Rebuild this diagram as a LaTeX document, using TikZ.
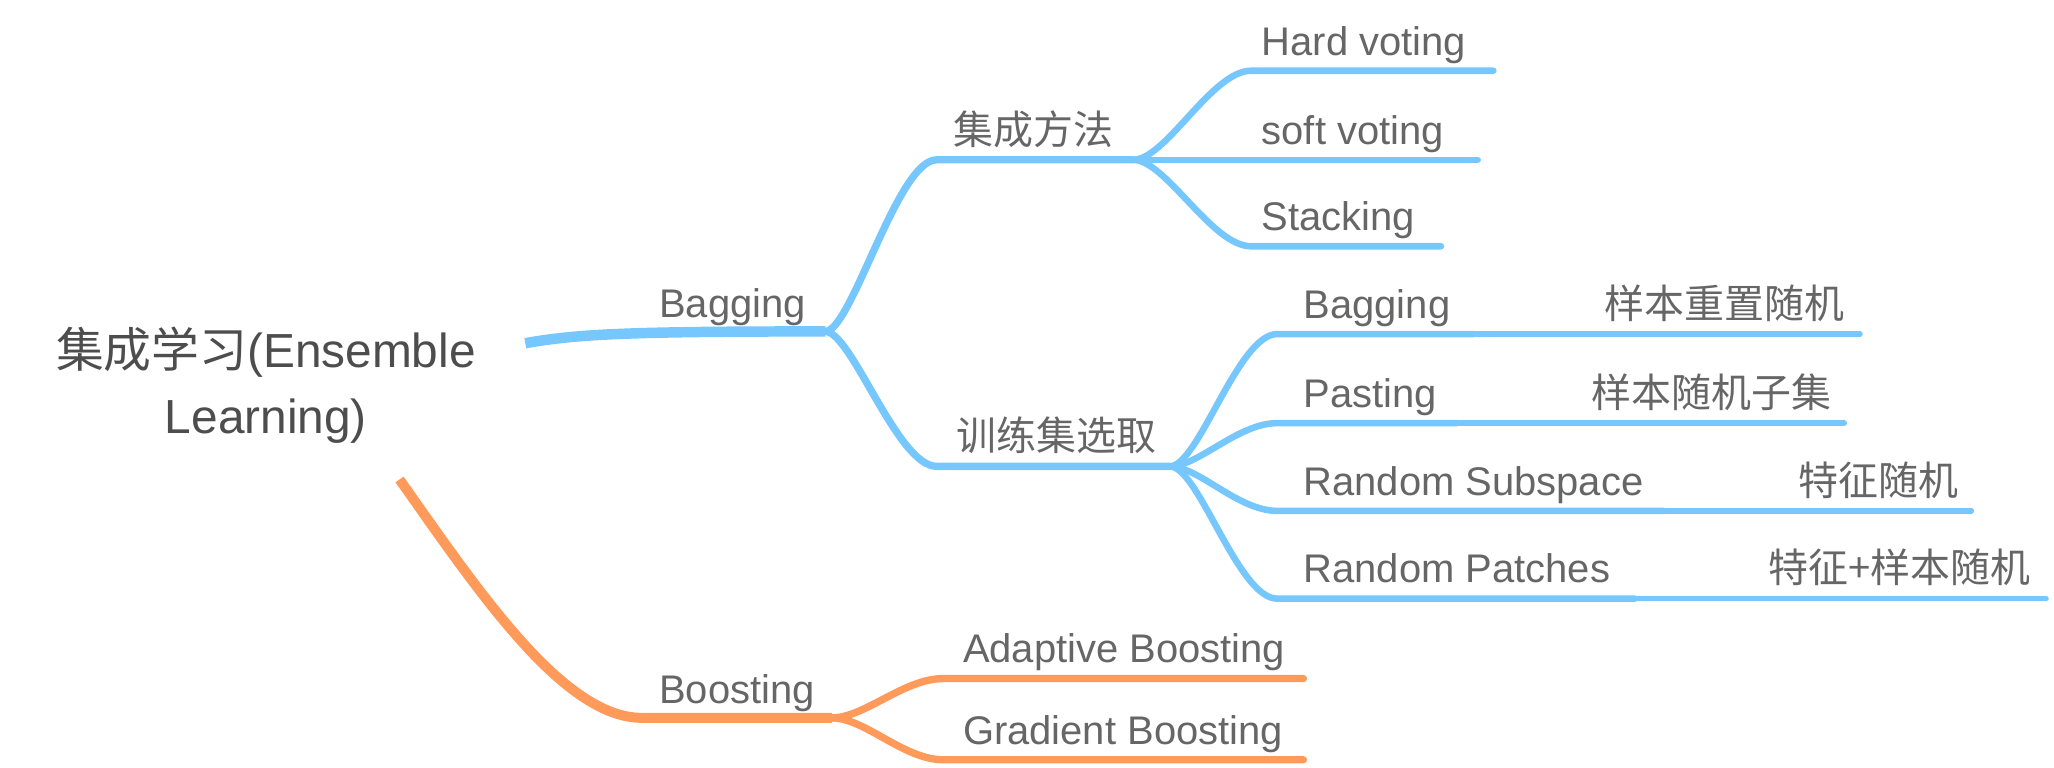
\documentclass[tikz,border=0pt]{standalone}
\usepackage{fontspec}
\setmainfont{Liberation Sans}
\newfontfamily\cjk{Noto Sans CJK SC}
\definecolor{blu}{HTML}{76C7FD}
\definecolor{org}{HTML}{FF9A5A}
\definecolor{txt}{HTML}{666666}
\definecolor{roottxt}{HTML}{4D4D4D}
\begin{document}
\begin{tikzpicture}[x=1pt,y=-1pt,line cap=round,line join=round,
  lbl/.style={anchor=base west,inner sep=0pt,text=txt,font=\fontsize{30.5}{36}\selectfont},
  rootlbl/.style={align=center,inner sep=0pt,text=roottxt,font=\fontsize{36.5}{51}\selectfont},
  bluetrunk/.style={draw=blu,line width=8pt,line cap=butt},
  bluemid/.style={draw=blu,line width=5.6pt},
  bluesub/.style={draw=blu,line width=5pt},
  blueext/.style={draw=blu,line width=4pt},
  orgtrunk/.style={draw=org,line width=7.6pt,line cap=butt},
  orgsub/.style={draw=org,line width=5.6pt}]
\useasboundingbox (0,0) rectangle (1568,586);

% root
\node[rootlbl] (root) at (203,294) {{\cjk 集成学习}(Ensemble\\Learning)};

% coordinates
\coordinate (rb) at (401,262);
\coordinate (ro) at (305,366);
\coordinate (jb) at (630,253);
\coordinate (jo) at (635,548);
\coordinate (ob) at (490,548);
\coordinate (m1s) at (715,122);
\coordinate (m1) at (865,122);
\coordinate (m2s) at (715,356);
\coordinate (m2) at (893,356);
\coordinate (hv1) at (955,54);   \coordinate (hv2) at (1140,54);
\coordinate (sv1) at (955,122);  \coordinate (sv2) at (1128,122);
\coordinate (st1) at (955,188);  \coordinate (st2) at (1100,188);
\coordinate (bg1) at (975,255);  \coordinate (bg2) at (1125,255);  \coordinate (bg3) at (1420,255);
\coordinate (ps1) at (975,323);  \coordinate (ps2) at (1112,323);  \coordinate (ps3) at (1408,323);
\coordinate (rs1) at (975,390);  \coordinate (rs2) at (1270,390);  \coordinate (rs3) at (1505,390);
\coordinate (rp1) at (975,457);  \coordinate (rp2) at (1248,457);  \coordinate (rp3) at (1562,457);
\coordinate (ab1) at (720,518);  \coordinate (ab2) at (995,518);
\coordinate (gb1) at (720,580);  \coordinate (gb2) at (995,580);

% blue branches
\draw[bluetrunk] (rb) .. controls (440,255) and (480,253) .. (jb);
\draw[bluemid] (jb) .. controls (650,253) and (685,122) .. (m1s) -- (m1);
\draw[bluemid] (jb) .. controls (650,253) and (685,356) .. (m2s) -- (m2);
\draw[bluesub] (m1) .. controls (890,122) and (925,54) .. (hv1) -- (hv2);
\draw[bluesub] (m1) -- (sv2);
\draw[bluesub] (m1) .. controls (890,122) and (925,188) .. (st1) -- (st2);
\draw[bluesub] (m2) .. controls (915,356) and (945,255) .. (bg1) -- (bg2);
\draw[bluesub] (m2) .. controls (915,356) and (945,323) .. (ps1) -- (ps2);
\draw[bluesub] (m2) .. controls (915,356) and (945,390) .. (rs1) -- (rs2);
\draw[bluesub] (m2) .. controls (915,356) and (945,457) .. (rp1) -- (rp2);
\draw[blueext] (bg2) -- (bg3);
\draw[blueext] (ps2) -- (ps3);
\draw[blueext] (rs2) -- (rs3);
\draw[blueext] (rp2) -- (rp3);

% orange branches
\draw[orgtrunk] (ro) .. controls (365,451) and (430,548) .. (ob) -- (jo);
\draw[orgsub] (jo) .. controls (660,548) and (690,518) .. (ab1) -- (ab2);
\draw[orgsub] (jo) .. controls (660,548) and (690,580) .. (gb1) -- (gb2);

% labels
\node[lbl] (tbag) at (503,242) {Bagging};
\node[lbl] (tjc) at (728,110) {\cjk 集成方法};
\node[lbl] (txl) at (730,344) {\cjk 训练集选取};
\node[lbl] (thv) at (963,42) {Hard voting};
\node[lbl] (tsv) at (963,110) {soft voting};
\node[lbl] (tst) at (963,176) {Stacking};
\node[lbl] (tbg) at (995,243) {Bagging};
\node[lbl] (tbgc) at (1225,243) {\cjk 样本重置随机};
\node[lbl] (tps) at (995,311) {Pasting};
\node[lbl] (tpsc) at (1215,311) {\cjk 样本随机子集};
\node[lbl] (trs) at (995,378) {Random Subspace};
\node[lbl] (trsc) at (1373,378) {\cjk 特征随机};
\node[lbl] (trp) at (995,445) {Random Patches};
\node[lbl] (trpc) at (1350,445) {\cjk 特征+样本随机};
\node[lbl] (tbo) at (503,537) {Boosting};
\node[lbl] (tab) at (735,506) {Adaptive Boosting};
\node[lbl] (tgb) at (735,568) {Gradient Boosting};
\end{tikzpicture}
\end{document}
